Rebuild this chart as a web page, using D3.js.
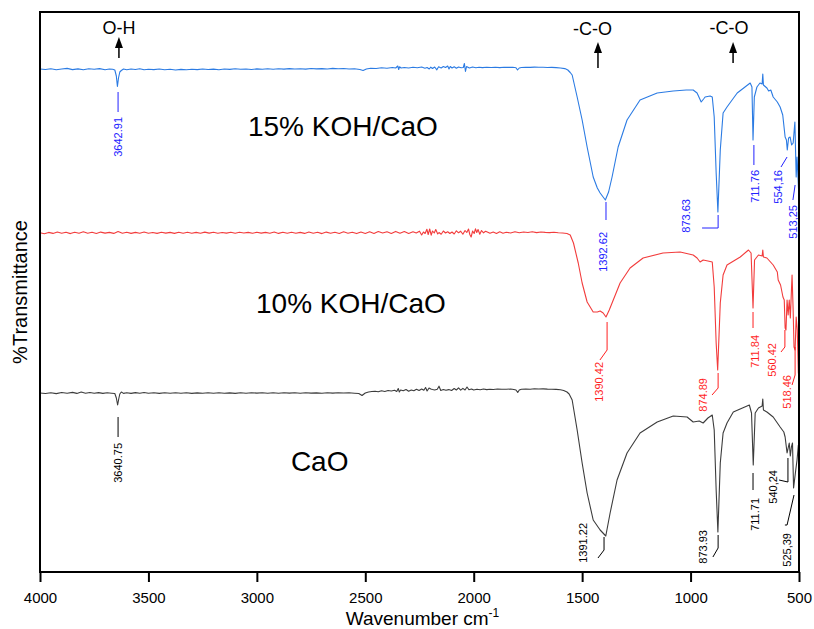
<!DOCTYPE html>
<html><head><meta charset="utf-8">
<script src="https://cdn.jsdelivr.net/npm/d3@7"></script>
<style>body{margin:0;background:#fff}svg{display:block;font-family:Arial,"Liberation Sans",sans-serif}</style>
</head><body><svg id="c" width="814" height="629"></svg>
<script>
// ---------- DATA ----------
const xTicks = [4000, 3500, 3000, 2500, 2000, 1500, 1000, 500];

// 15% KOH/CaO  [wavenumber, %T (offset)]
const koh15 = [
[4000,50.30],[3975,50.25],[3950,50.32],[3925,50.22],[3900,50.30],[3875,50.36],[3850,50.24],[3825,50.31],[3800,50.22],[3775,50.33],
[3750,50.27],[3725,50.34],[3700,50.23],[3680,50.30],[3665,50.28],[3655,50.20],[3648,49.60],[3643,48.55],[3638,49.40],[3632,50.00],
[3625,50.15],[3615,50.30],[3600,50.22],[3580,50.30],[3560,50.25],[3540,50.33],[3520,50.22],[3500,50.28],[3475,50.24],[3450,50.30],
[3425,50.22],[3400,50.27],[3375,50.20],[3350,50.26],[3325,50.22],[3300,50.28],[3275,50.24],[3250,50.30],[3225,50.25],[3200,50.29],
[3175,50.23],[3150,50.30],[3125,50.26],[3100,50.32],[3075,50.27],[3050,50.30],[3025,50.25],[3000,50.31],[2975,50.28],[2950,50.33],
[2925,50.27],[2900,50.32],[2875,50.29],[2850,50.34],[2825,50.30],[2800,50.33],[2775,50.29],[2750,50.35],[2725,50.31],[2700,50.34],
[2675,50.30],[2650,50.36],[2625,50.32],[2600,50.35],[2575,50.30],[2550,50.33],[2525,50.25],[2510,50.15],[2495,50.30],[2475,50.38],
[2450,50.35],[2425,50.42],[2400,50.38],[2375,50.45],[2360,50.40],[2350,50.60],[2346,50.25],[2342,50.52],[2335,50.40],[2320,50.45],
[2300,50.40],[2280,50.47],[2260,50.42],[2240,50.50],[2225,50.38],[2215,50.45],[2205,50.30],[2198,50.48],[2190,50.35],[2180,50.50],
[2170,50.22],[2162,50.52],[2150,50.40],[2140,50.55],[2130,50.45],[2120,50.60],[2114,50.30],[2108,50.55],[2100,50.40],[2090,50.52],
[2080,50.38],[2070,50.50],[2058,50.42],[2048,50.45],[2043,50.85],[2038,50.05],[2033,50.55],[2020,50.40],[2005,50.50],[1990,50.42],
[1975,50.48],[1960,50.44],[1940,50.48],[1920,50.45],[1900,50.47],[1880,50.44],[1860,50.48],[1840,50.46],[1820,50.47],[1805,50.42],
[1798,50.20],[1790,50.40],[1780,50.45],[1760,50.48],[1740,50.46],[1720,50.49],[1700,50.47],[1680,50.48],[1660,50.45],[1640,50.46],
[1620,50.44],[1600,50.40],[1580,50.34],[1566,50.20],[1555,49.95],[1546,49.70],[1523,47.50],[1500,45.20],[1477,42.50],[1449,39.50],
[1430,38.40],[1417,37.90],[1393,37.20],[1378,38.00],[1362,39.50],[1334,42.50],[1293,45.20],[1233,47.20],[1154,47.90],[1080,48.10],
[1020,48.20],[988,48.20],[970,47.90],[951,47.00],[940,47.30],[933,47.50],[910,47.60],[900,47.50],[891,45.50],[882,39.90],
[874,36.00],[863,42.20],[850,45.90],[832,46.50],[785,47.90],[725,48.90],[717,48.50],[712,43.20],[706,47.50],[694,48.50],
[680,48.90],[670,48.80],[667,49.80],[664,48.70],[648,48.40],[640,48.10],[630,48.20],[619,47.50],[600,47.00],[587,46.50],
[575,45.70],[564,43.50],[558,43.20],[554,42.20],[548,43.40],[541,43.50],[534,42.70],[527,42.90],[519,45.00],[513,39.50],
[509,41.50],[504,39.20],[500,37.20]
];

// 10% KOH/CaO
const koh10 = [
[4000,33.92],[3980,33.82],[3960,33.96],[3940,33.86],[3920,34.00],[3900,33.88],[3880,33.97],[3860,33.84],[3840,33.98],[3820,33.87],
[3800,34.02],[3780,33.88],[3760,33.97],[3740,33.85],[3720,33.99],[3700,33.89],[3680,33.96],[3660,33.86],[3640,34.05],[3620,33.88],
[3600,33.98],[3580,33.86],[3560,33.96],[3540,33.88],[3520,34.00],[3500,33.87],[3480,33.95],[3460,33.86],[3440,33.98],[3420,33.89],
[3400,33.96],[3380,33.86],[3360,33.97],[3340,33.88],[3320,33.98],[3300,33.87],[3280,33.96],[3260,33.88],[3240,33.99],[3220,33.89],
[3200,33.97],[3180,33.87],[3160,33.95],[3140,33.89],[3120,33.97],[3100,33.88],[3080,33.98],[3060,33.90],[3040,33.96],[3020,33.88],
[3000,33.97],[2980,33.89],[2960,33.96],[2940,33.88],[2920,34.00],[2900,33.86],[2880,33.97],[2860,33.88],[2840,33.98],[2820,33.87],
[2800,33.96],[2780,33.86],[2760,34.00],[2740,33.88],[2720,33.97],[2700,33.84],[2680,33.99],[2660,33.87],[2640,33.98],[2620,33.85],
[2600,34.02],[2580,33.88],[2560,33.98],[2540,33.84],[2520,34.00],[2500,33.86],[2480,34.02],[2460,33.85],[2440,34.05],[2420,33.90],
[2400,34.02],[2380,33.86],[2360,34.06],[2340,33.88],[2320,34.05],[2300,33.85],[2280,34.02],[2265,33.90],[2250,34.08],[2240,33.70],
[2232,34.00],[2224,33.85],[2216,34.28],[2210,33.75],[2203,34.30],[2196,33.68],[2190,34.10],[2182,33.90],[2175,34.25],[2166,33.80],
[2160,33.95],[2150,33.78],[2140,34.10],[2130,33.90],[2120,34.02],[2110,33.85],[2100,34.00],[2090,33.80],[2080,34.12],[2070,33.92],
[2060,34.08],[2050,33.78],[2040,34.15],[2032,33.95],[2024,34.30],[2018,33.75],[2012,33.50],[2005,34.10],[1998,33.85],[1992,34.32],
[1986,33.95],[1980,34.25],[1972,33.78],[1964,34.15],[1955,33.92],[1945,34.08],[1925,33.88],[1910,34.00],[1895,33.86],[1880,34.02],
[1865,33.88],[1850,33.98],[1830,33.90],[1810,34.02],[1790,33.92],[1770,34.00],[1750,33.95],[1730,34.02],[1710,33.94],[1690,34.00],
[1670,33.96],[1650,33.94],[1630,33.98],[1610,33.92],[1590,33.90],[1570,33.85],[1555,33.70],[1540,32.90],[1518,30.90],[1500,28.90],
[1477,27.00],[1449,26.00],[1430,26.00],[1417,26.10],[1403,25.90],[1390,25.50],[1375,26.20],[1362,26.90],[1325,28.90],[1279,30.40],
[1219,31.40],[1127,31.90],[1048,32.00],[988,31.70],[970,31.40],[956,31.00],[942,31.20],[920,31.10],[900,31.00],[891,28.50],
[882,22.90],[875,20.20],[863,26.90],[850,29.70],[832,30.70],[771,31.50],[733,32.20],[721,31.90],[712,26.40],[705,31.20],
[687,31.70],[670,31.60],[667,32.20],[664,31.50],[648,31.40],[619,30.70],[600,30.00],[596,29.20],[585,28.70],[574,27.50],
[568,27.20],[564,24.40],[560,24.20],[555,27.20],[550,25.70],[545,27.20],[540,25.40],[532,29.70],[527,26.20],[523,22.50],
[518,22.20],[513,25.50],[508,24.20],[503,19.90],[500,19.70]
];

// CaO
const caoT = [
[4000,17.90],[3975,17.85],[3950,17.93],[3925,17.84],[3900,17.95],[3875,17.88],[3850,17.96],[3830,17.86],[3810,18.00],[3790,17.88],
[3770,17.95],[3750,17.87],[3730,17.94],[3710,17.86],[3690,17.92],[3670,17.88],[3655,17.85],[3648,17.40],[3642,16.70],[3637,17.30],
[3632,17.80],[3625,18.00],[3615,17.86],[3600,17.92],[3580,17.86],[3560,17.94],[3540,17.87],[3520,17.95],[3500,17.88],[3475,17.93],
[3450,17.86],[3425,17.92],[3400,17.87],[3375,17.93],[3350,17.88],[3325,17.92],[3300,17.86],[3275,17.91],[3250,17.87],[3225,17.93],
[3200,17.88],[3175,17.92],[3150,17.87],[3125,17.91],[3100,17.86],[3075,17.92],[3050,17.88],[3025,17.93],[3000,17.89],[2975,17.92],
[2950,17.87],[2925,17.93],[2900,17.88],[2875,17.92],[2850,17.89],[2825,17.93],[2800,17.88],[2775,17.92],[2750,17.89],[2725,17.91],
[2700,17.88],[2675,17.92],[2650,17.89],[2625,17.93],[2600,17.90],[2575,17.92],[2550,17.88],[2530,17.85],[2515,17.65],[2500,17.90],
[2485,18.00],[2470,18.05],[2455,18.08],[2440,18.02],[2425,18.12],[2410,18.05],[2395,18.15],[2380,18.10],[2365,18.18],[2355,18.05],
[2348,18.35],[2343,18.00],[2337,18.20],[2325,18.12],[2312,18.25],[2300,18.08],[2288,18.20],[2276,18.12],[2264,18.28],[2252,18.15],
[2240,18.30],[2230,18.18],[2222,18.45],[2215,18.10],[2206,18.40],[2198,18.30],[2190,18.25],[2180,18.20],[2168,18.28],[2160,18.58],
[2152,18.15],[2140,18.25],[2128,18.18],[2115,18.24],[2102,18.15],[2090,18.35],[2080,18.20],[2070,18.42],[2060,18.18],[2050,18.36],
[2040,18.20],[2031,18.50],[2022,18.22],[2010,18.30],[2000,18.20],[1985,18.28],[1970,18.22],[1955,18.30],[1940,18.24],[1925,18.28],
[1910,18.25],[1890,18.30],[1870,18.28],[1850,18.27],[1830,18.30],[1815,18.25],[1805,18.20],[1797,17.95],[1790,18.20],[1780,18.28],
[1760,18.30],[1740,18.28],[1720,18.32],[1700,18.30],[1680,18.31],[1660,18.29],[1640,18.28],[1620,18.26],[1600,18.22],[1585,18.15],
[1570,18.00],[1560,17.80],[1546,17.20],[1523,14.20],[1500,10.90],[1477,7.90],[1449,5.20],[1417,4.20],[1391,3.60],[1371,5.90],
[1339,9.20],[1293,11.90],[1233,13.90],[1154,15.00],[1080,15.60],[1016,15.50],[988,15.00],[960,15.10],[942,14.90],[920,15.40],
[900,15.70],[891,14.20],[882,8.20],[874,4.00],[863,10.90],[850,13.90],[832,14.90],[803,16.00],[729,16.70],[719,15.90],
[711,10.70],[702,15.90],[687,16.40],[670,16.60],[667,17.30],[664,16.20],[648,16.00],[619,15.50],[587,14.50],[570,14.00],
[564,13.50],[555,11.90],[545,12.90],[540,11.60],[535,12.50],[530,12.90],[525,8.40],[515,10.20],[509,11.20],[503,12.70],[500,12.70]
];

const seriesNames = ["15% KOH/CaO", "10% KOH/CaO", "CaO"];

// Peak labels: text, leader line [wn, %T] points, text top anchor [wn, %T]
const peaks15 = [
  {t:"3642.91", line:[[3640,48.0],[3640,46.0]], at:[3640,45.5]},
  {t:"1392.62", line:[[1390,37.0],[1390,35.2]], at:[1404,34.0]},
  {t:"873.63",  line:[[873,35.7],[873,34.4],[947,34.4]], at:[1021,37.3]},
  {t:"711.76",  line:[[708,42.7],[708,40.7]], at:[703,40.2]},
  {t:"554,16",  line:[[555,41.5],[583,40.5]], at:[597,40.2]},
  {t:"513,25",  line:[[518,38.7],[528,37.2]], at:[528,36.7]}
];
const peaks10 = [
  {t:"1390.42", line:[[1385,25.0],[1385,22.2],[1418,21.2]], at:[1422,21.0]},
  {t:"874.89",  line:[[873,19.9],[873,18.4],[901,17.7]], at:[943,19.4]},
  {t:"711.84",  line:[[712,26.0],[712,24.4]], at:[703,23.7]},
  {t:"560.42",  line:[[565,24.2],[565,22.5],[583,22.0]], at:[625,22.9]},
  {t:"518.46",  line:[[518,22.5],[518,19.7],[532,18.7]], at:[555,19.7]}
];
const peaksCaO = [
  {t:"3640.75", line:[[3640,15.5],[3640,13.5]], at:[3640,12.9]},
  {t:"1391.22", line:[[1399,3.5],[1399,2.2],[1427,1.4]], at:[1496,4.9]},
  {t:"873.93",  line:[[873,3.7],[873,2.4],[897,1.5]], at:[943,4.2]},
  {t:"711.71",  line:[[712,9.9],[712,8.2]], at:[703,7.4]},
  {t:"540,24",  line:[[551,11.4],[551,9.0],[592,9.2]], at:[620,10.2]},
  {t:"525,39",  line:[[523,7.7],[555,4.7],[565,4.7]], at:[555,3.9]}
];

// Band assignment arrows: label, arrow wn, base %T, tip %T, text wn, text baseline %T
const bands = [
  {t:"O-H",  wn:3636, base:51.4, tip:53.5, tx:3636, ty:53.8},
  {t:"-C-O", wn:1427, base:50.4, tip:53.0, tx:1452, ty:53.7},
  {t:"-C-O", wn:804,  base:50.9, tip:53.0, tx:823,  ty:53.8}
];

// Series name positions [wn, %T baseline]
const namePos = [[3041,43.6],[3004,25.9],[2843,10.1]];

// ---------- DRAWING ----------
const svg = d3.select("#c");
const W = 814, H = 629;
const m = {l:40, r:15, t:12, b:57};
const x = d3.scaleLinear().domain([4000, 500]).range([m.l, W - m.r]);
const y = d3.scaleLinear().domain([0, 56]).range([H - m.b, m.t]);

const lineGen = d3.line().x(d => x(d[0])).y(d => y(d[1]));

const series = [
  {data: koh15, stroke: "#2b7be3", label: "#2222ff", peaks: peaks15},
  {data: koh10, stroke: "#f23c3c", label: "#ff1f1f", peaks: peaks10},
  {data: caoT,  stroke: "#3c3c3c", label: "#000000", peaks: peaksCaO}
];

series.forEach((s, i) => {
  svg.append("path").datum(s.data)
    .attr("d", lineGen).attr("fill", "none")
    .attr("stroke", s.stroke).attr("stroke-width", 1.1)
    .attr("stroke-linejoin", "round");

  s.peaks.forEach(p => {
    svg.append("path").datum(p.line)
      .attr("d", lineGen).attr("fill", "none")
      .attr("stroke", s.label).attr("stroke-width", 1);
    svg.append("text")
      .attr("transform", `translate(${x(p.at[0])},${y(p.at[1])}) rotate(-90)`)
      .attr("text-anchor", "end").attr("dy", "0.36em")
      .attr("font-size", 11).attr("fill", s.label)
      .text(p.t);
  });

  svg.append("text")
    .attr("x", x(namePos[i][0])).attr("y", y(namePos[i][1]))
    .attr("font-size", 28).attr("fill", "#000")
    .text(seriesNames[i]);
});

// band arrows
bands.forEach(b => {
  const bx = x(b.wn), yb = y(b.base), yt = y(b.tip);
  svg.append("line").attr("x1", bx).attr("x2", bx)
    .attr("y1", yb).attr("y2", yt + 8)
    .attr("stroke", "#000").attr("stroke-width", 1.5);
  svg.append("path")
    .attr("d", `M${bx},${yt} L${bx - 4},${yt + 11} L${bx + 4},${yt + 11} Z`)
    .attr("fill", "#000");
  svg.append("text").attr("x", x(b.tx)).attr("y", y(b.ty))
    .attr("text-anchor", "middle").attr("font-size", 18).attr("fill", "#000")
    .text(b.t);
});

// frame
svg.append("rect")
  .attr("x", m.l).attr("y", m.t)
  .attr("width", W - m.l - m.r).attr("height", H - m.t - m.b)
  .attr("fill", "none").attr("stroke", "#000").attr("stroke-width", 2);

// x axis
const xAxis = svg.append("g")
  .attr("transform", `translate(0,${H - m.b})`)
  .call(d3.axisBottom(x).tickValues(xTicks).tickSize(10).tickPadding(10).tickFormat(d3.format("d")));
xAxis.select(".domain").remove();
xAxis.selectAll(".tick line").attr("stroke", "#000").attr("stroke-width", 2);
xAxis.selectAll(".tick text").attr("font-size", 15).attr("fill", "#000")
  .attr("font-family", "Arial, 'Liberation Sans', sans-serif");

// axis titles
const xt = svg.append("text")
  .attr("x", (m.l + W - m.r) / 2 + 3).attr("y", 625)
  .attr("text-anchor", "middle").attr("font-size", 19).attr("fill", "#000");
xt.append("tspan").text("Wavenumber cm");
xt.append("tspan").attr("font-size", 12).attr("dy", -8).text("-1");

svg.append("text")
  .attr("transform", `translate(27,${(m.t + H - m.b) / 2}) rotate(-90)`)
  .attr("text-anchor", "middle").attr("font-size", 20).attr("fill", "#000")
  .text("%Transmittance");
</script>
</body></html>
